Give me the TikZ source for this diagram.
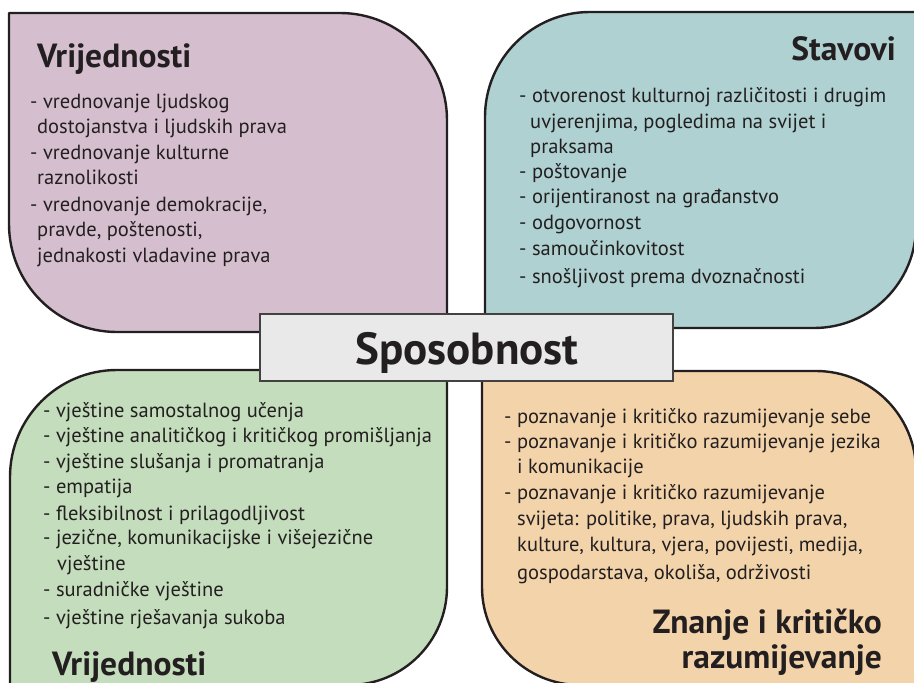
\documentclass[tikz,border=0pt]{standalone}
\usepackage{fontspec}
\setmainfont{PT Sans}
\definecolor{txt}{HTML}{231F20}
\definecolor{edge}{HTML}{231F20}
\definecolor{cTL}{HTML}{D5BFCF}
\definecolor{cTR}{HTML}{AFD1D1}
\definecolor{cBL}{HTML}{C4DDBC}
\definecolor{cBR}{HTML}{F2D3AA}
\definecolor{cBox}{HTML}{E9E9E9}
\tikzset{
  petal/.style={draw=edge, line width=2.4pt, line join=round},
  body/.style={anchor=base west, inner sep=0pt, text=txt, font=\fontsize{20.5}{20.5}\selectfont},
  headL/.style={anchor=base west, inner sep=0pt, text=txt, font=\fontsize{33.5}{33.5}\selectfont\bfseries},
  headR/.style={anchor=base east, inner sep=0pt, text=txt, font=\fontsize{33.5}{33.5}\selectfont\bfseries},
  centrebox/.style={draw=edge!85, line width=1.4pt, fill=cBox, minimum width=413pt, minimum height=67pt, inner sep=0pt},
  centretext/.style={anchor=base, inner sep=0pt, text=txt, font=\fontsize{45}{45}\selectfont\bfseries}
}
\begin{document}
\begin{tikzpicture}[x=1pt,y=-1pt]
\useasboundingbox (0,0) rectangle (914,683);
\clip (0,0) rectangle (914,683);
% top-left petal
\draw[petal, fill=cTL] (9,13) -- (340,13) arc[start angle=-90, end angle=0, radius=107]
  -- (447,332) -- (117,332) arc[start angle=90, end angle=180, radius=108] -- cycle;
% top-right petal
\draw[petal, fill=cTR] (485,328) -- (485,117) arc[start angle=180, end angle=270, radius=105]
  -- (916,12) -- (916,226) arc[start angle=0, end angle=90, radius=102] -- cycle;
% bottom-left petal
\draw[petal, fill=cBL] (10,685) -- (10,477) arc[start angle=180, end angle=270, radius=107]
  -- (447,370) -- (447,587) arc[start angle=0, end angle=90, radius=98] -- cycle;
% bottom-right petal
\draw[petal, fill=cBR] (482,371) -- (816,371) arc[start angle=-90, end angle=0, radius=100]
  -- (916,685) -- (580,685) arc[start angle=90, end angle=180, radius=98] -- cycle;
% centre
\node[centrebox] (box) at (466.5,347.5) {};
\node[centretext] (sposobnost) at (467,364) {Sposobnost};
% top-left texts
\node[headL] (tlh) at (37,67) {Vrijednosti};
\node[body] (tl1) at (30,108) {- vrednovanje ljudskog};
\node[body] (tl2) at (37,133) {dostojanstva i ljudskih prava};
\node[body] (tl3) at (30,159) {- vrednovanje kulturne};
\node[body] (tl4) at (37,184) {raznolikosti};
\node[body] (tl5) at (30,211) {- vrednovanje demokracije,};
\node[body] (tl6) at (37,236) {pravde, poštenosti,};
\node[body] (tl7) at (37,262) {jednakosti vladavine prava};
% top-right texts
\node[headR] (trh) at (896,60) {Stavovi};
\node[body] (tr1) at (519,102) {- otvorenost kulturnoj različitosti i drugim};
\node[body] (tr2) at (530,128) {uvjerenjima, pogledima na svijet i};
\node[body] (tr3) at (530,153) {praksama};
\node[body] (tr4) at (519,178) {- poštovanje};
\node[body] (tr5) at (519,203) {- orijentiranost na građanstvo};
\node[body] (tr6) at (519,229) {- odgovornost};
\node[body] (tr7) at (519,255) {- samoučinkovitost};
\node[body] (tr8) at (519,283) {- snošljivost prema dvoznačnosti};
% bottom-left texts
\node[body] (bl1) at (43,417) {- vještine samostalnog učenja};
\node[body] (bl2) at (43,442) {- vještine analitičkog i kritičkog promišljanja};
\node[body] (bl3) at (43,468) {- vještine slušanja i promatranja};
\node[body] (bl4) at (43,493) {- empatija};
\node[body] (bl5) at (43,520) {- fleksibilnost i prilagodljivost};
\node[body] (bl6) at (43,544) {- jezične, komunikacijske i višejezične};
\node[body] (bl7) at (57,570) {vještine};
\node[body] (bl8) at (43,596) {- suradničke vještine};
\node[body] (bl9) at (43,624) {- vještine rješavanja sukoba};
\node[headL] (blh) at (52,675) {Vrijednosti};
% bottom-right texts
\node[body] (br1) at (504,423) {- poznavanje i kritičko razumijevanje sebe};
\node[body] (br2) at (504,448) {- poznavanje i kritičko razumijevanje jezika};
\node[body] (br3) at (517,473) {i komunikacije};
\node[body] (br4) at (504,499) {- poznavanje i kritičko razumijevanje};
\node[body] (br5) at (517,525) {svijeta: politike, prava, ljudskih prava,};
\node[body] (br6) at (517,551) {kulture, kultura, vjera, povijesti, medija,};
\node[body] (br7) at (517,579) {gospodarstava, okoliša, održivosti};
\node[headR] (brh1) at (882,633) {Znanje i kritičko};
\node[headR] (brh2) at (882,668) {razumijevanje};
\end{tikzpicture}
\end{document}
